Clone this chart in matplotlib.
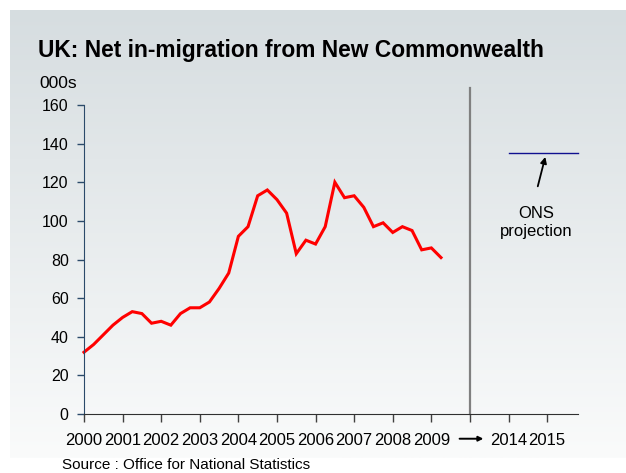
import matplotlib
matplotlib.use("Agg")
import matplotlib.pyplot as plt
import numpy as np

plt.rcParams["font.family"] = ["Liberation Sans", "DejaVu Sans"]

# quarterly net in-migration, thousands, 2000 Q1 .. 2009 Q2
net_inflow = [32, 36, 41, 46, 50, 53, 52, 47, 48, 46, 52, 55, 55, 58, 65, 73,
              92, 97, 113, 116, 111, 104, 83, 90, 88, 97, 120, 112, 113, 107,
              97, 99, 94, 97, 95, 85, 86, 81]
start_year = 2000
projection = 135
tick_years = list(range(2000, 2013))
tick_labels = [str(y) for y in range(2000, 2010)] + ["", "2014", "2015"]
y_ticks = list(range(0, 161, 20))

quarters = start_year + np.arange(len(net_inflow)) / 4.0

fig = plt.figure(figsize=(6.26, 4.73), dpi=100)

# soft grey-to-white panel behind the chart
bg = fig.add_axes([10 / 626, 1 - 458 / 473, 616 / 626, 448 / 473], zorder=0)
grad = np.linspace(0, 1, 256)[:, None]
top = np.array([214, 221, 224]) / 255
bot = np.array([250, 251, 251]) / 255
img = top[None, None, :] * (1 - grad[..., None]) + bot[None, None, :] * grad[..., None]
bg.imshow(img, aspect="auto", extent=[0, 1, 0, 1])
bg.set_axis_off()

ax = fig.add_axes([84 / 626, 1 - 414 / 473, 494 / 626, 309 / 473], zorder=1)
ax.set_facecolor("none")

ax.plot(quarters, net_inflow, color="#ff0000", lw=2.2, solid_joinstyle="miter",
        clip_on=False)

# divider between observed data and projection years
ax.plot([2010, 2010], [0, 169], color="#808080", lw=1.6, clip_on=False)
ax.plot([2011, 2012.8], [projection, projection], color="#101090", lw=1.0,
        clip_on=False)
ax.annotate("", xy=(2011.97, projection - 0.5), xytext=(2011.74, 116.5),
            arrowprops=dict(arrowstyle="-|>", color="black", lw=1.3,
                            mutation_scale=9))
ax.text(2011.72, 99, "ONS\nprojection", ha="center", va="center", fontsize=12,
        linespacing=1.25)

ax.set_xlim(2000, 2012.8)
ax.set_ylim(0, 160)
ax.set_yticks(y_ticks)
ax.set_xticks(tick_years)
ax.set_xticklabels(tick_labels)
ax.tick_params(axis="y", direction="out", length=5, width=1, color="#2b4a6a",
               labelsize=11.5, pad=6)
ax.tick_params(axis="x", direction="out", length=6, width=1, color="#404040",
               labelsize=12, pad=8)
for side in ("top", "right"):
    ax.spines[side].set_visible(False)
ax.spines["left"].set_color("#2b4a6a")
ax.spines["bottom"].set_color("#303030")

# arrow in place of the 2010-2013 labels
ax.annotate("", xy=(2010.42, -0.08), xytext=(2009.66, -0.08),
            xycoords=ax.get_xaxis_transform(),
            textcoords=ax.get_xaxis_transform(),
            arrowprops=dict(arrowstyle="-|>", color="black", lw=1.4,
                            mutation_scale=7), annotation_clip=False)

fig.text(38 / 626, 1 - 51 / 473, "UK: Net in-migration from New Commonwealth",
         fontsize=16.4, fontweight="bold", va="center", ha="left")
fig.text(39 / 626, 1 - 83 / 473, "000s", fontsize=12.5, va="center", ha="left")
fig.text(62 / 626, 1 - 465 / 473, "Source : Office for National Statistics",
         fontsize=11, va="center", ha="left")

fig.savefig("out.png", dpi=100)
